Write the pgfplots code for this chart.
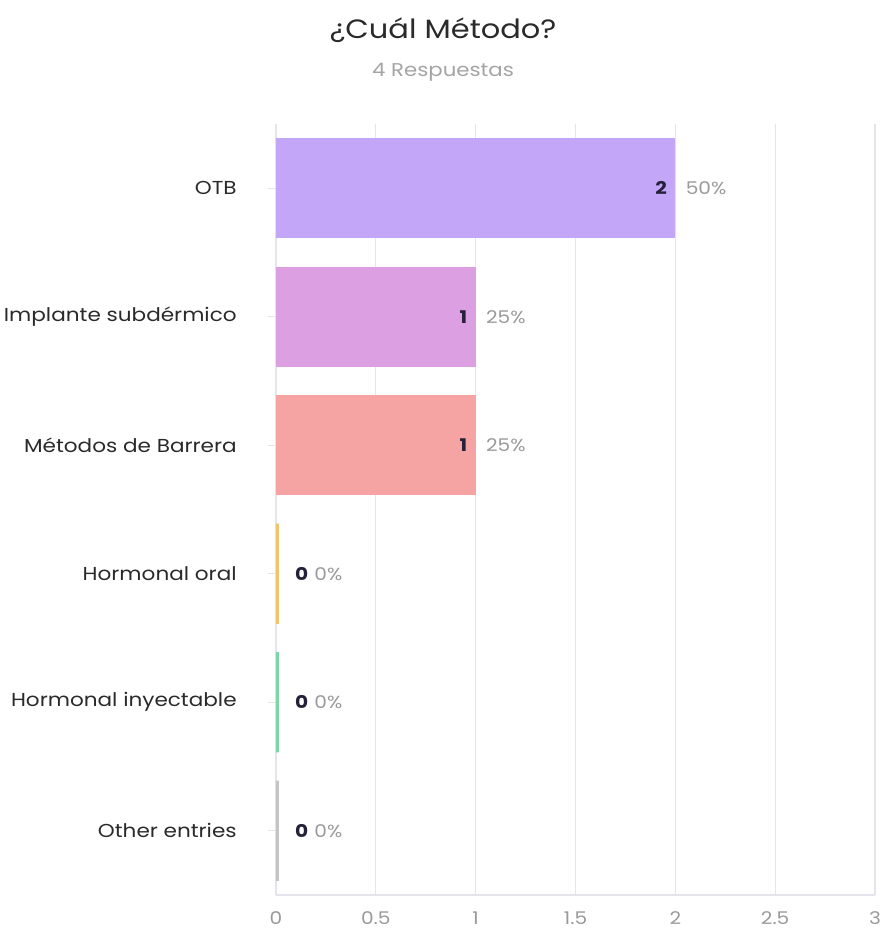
\documentclass[border=0pt]{standalone}
\usepackage{pgfplots}
\pgfplotsset{compat=1.18}
\usepackage{fontspec}
\setmainfont{Poppins}[FakeStretch=1.15]
\definecolor{cA}{HTML}{C4A6F8}
\definecolor{cB}{HTML}{DCA0E2}
\definecolor{cC}{HTML}{F5A3A3}
\definecolor{cD}{HTML}{F0C46A}
\definecolor{cE}{HTML}{7CD6A6}
\definecolor{cF}{HTML}{C4C4C4}
\definecolor{gridc}{HTML}{E4E4EC}
\definecolor{pctc}{HTML}{9A9A9A}
\definecolor{cntc}{HTML}{25213A}
\definecolor{labc}{HTML}{2A2A2A}
\begin{document}
\begin{tikzpicture}
\path[use as bounding box] (0,0) rectangle (354pt,372.8pt);
\node[font=\fontsize{10.6}{12}\selectfont, text=labc] at (177.2pt,360.8pt) {¿Cuál Método?};
\node[font=\fontsize{7.4}{9}\selectfont, text=pctc!90] at (177.2pt,344pt) {4 Respuestas};
\begin{axis}[
  at={(110.4pt,14.8pt)}, anchor=south west, scale only axis,
  width=239.6pt, height=308.4pt,
  xbar, bar shift=0pt, bar width=0.78,
  xmin=0, xmax=3, ymin=-0.5, ymax=5.5, y dir=reverse,
  /pgf/number format/assume math mode=true,
  ytick={0,1,2,3,4,5},
  yticklabels={OTB, Implante subdérmico, Métodos de Barrera, Hormonal oral, Hormonal inyectable, Other entries},
  xtick={0,0.5,1,1.5,2,2.5,3},
  xticklabels={0,0.5,1,1.5,2,2.5,3},
  xmajorgrids, grid style={draw=gridc, line width=0.5pt},
  axis x line*=bottom, axis y line*=left,
  x axis line style={draw=gridc, line width=0.5pt, -},
  y axis line style={draw=none},
  xtick style={draw=none},
  ytick style={draw=gridc, line width=0.5pt},
  tick align=outside, major tick length=3.2pt,
  yticklabel style={font=\fontsize{7.5}{9}\selectfont, text=labc, xshift=-9pt},
  xticklabel style={font=\fontsize{7}{8}\selectfont, text=pctc},
  point meta={x*25},
  visualization depends on={x \as \cnt},
  nzlab/.style={nodes near coords={\llap{\textcolor{cntc}{\bfseries\pgfmathprintnumber[fixed,precision=0]{\cnt}}\hspace{7.6pt}}\textcolor{pctc}{\pgfmathprintnumber[fixed,precision=0]{\pgfplotspointmeta}\%}},
    nodes near coords style={anchor=west, inner sep=0pt, xshift=4pt, font=\fontsize{7}{8}\selectfont}},
  zlab/.style={nodes near coords={\textcolor{cntc}{\bfseries\pgfmathprintnumber[fixed,precision=0]{\cnt}}\hspace{2.4pt}\textcolor{pctc}{\pgfmathprintnumber[fixed,precision=0]{\pgfplotspointmeta}\%}},
    nodes near coords style={anchor=west, inner sep=0pt, xshift=6.4pt, font=\fontsize{7}{8}\selectfont}},
]
\addplot[fill=cA, draw=none, nzlab] coordinates {(2,0)};
\addplot[fill=cB, draw=none, nzlab] coordinates {(1,1)};
\addplot[fill=cC, draw=none, nzlab] coordinates {(1,2)};
\addplot[fill=cD, draw=cD, line width=2.6pt, zlab] coordinates {(0,3)};
\addplot[fill=cE, draw=cE, line width=2.6pt, zlab] coordinates {(0,4)};
\addplot[fill=cF, draw=cF, line width=2.6pt, zlab] coordinates {(0,5)};
\end{axis}
\end{tikzpicture}
\end{document}
